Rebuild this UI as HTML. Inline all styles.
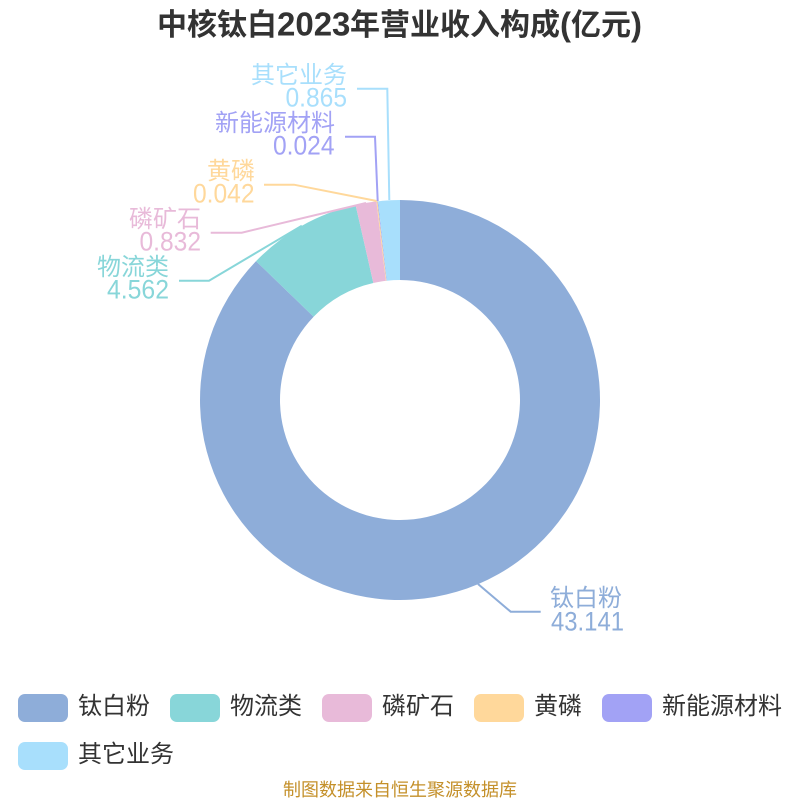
<!DOCTYPE html>
<html><head><meta charset="utf-8">
<style>
html,body{margin:0;padding:0;background:#fff}
svg{display:block}
text{font-family:"Liberation Sans","Noto Sans CJK SC",sans-serif}
</style></head>
<body>
<svg width="800" height="800" viewBox="0 0 800 800" xmlns="http://www.w3.org/2000/svg">
<rect width="800" height="800" fill="#fff"/>
<g font-weight="bold" fill="#333">
<text x="157" y="35" font-size="30">中核钛白</text>
<text x="277" y="35.5" font-size="33">2023</text>
<text x="350" y="35" font-size="30">年营业收入构成</text>
<text x="560" y="35.5" font-size="33">(</text>
<text x="571" y="35" font-size="30">亿元</text>
<text x="631" y="35.5" font-size="33">)</text>
</g>

<path d="M400 200A200 200 0 1 1 256.06 261.15L313.63 316.69A120 120 0 1 0 400 280Z" fill="#8EADD9"/>
<path d="M256.06 261.15A200 200 0 0 1 355.59 205.01L373.35 282.99A120 120 0 0 0 313.63 316.69Z" fill="#88D6D9"/>
<path d="M355.59 205.01A200 200 0 0 1 376.40 201.40L385.84 280.84A120 120 0 0 0 373.35 282.99Z" fill="#E8BAD9"/>
<path d="M376.40 201.40A200 200 0 0 1 377.46 201.27L386.48 280.76A120 120 0 0 0 385.84 280.84Z" fill="#FFD89B"/>
<path d="M377.46 201.27A200 200 0 0 1 378.07 201.21L386.84 280.72A120 120 0 0 0 386.48 280.76Z" fill="#A2A2F5"/>
<path d="M378.07 201.21A200 200 0 0 1 400 200L400 280A120 120 0 0 0 386.84 280.72Z" fill="#A8DFFC"/>

<g fill="none" stroke-width="2">
<polyline points="478,584 510.7,611.7 540.7,611.7" stroke="#8EADD9"/>
<polyline points="301.8,225.7 209,280.7 179,280.7" stroke="#88D6D9"/>
<polyline points="366,203 241.7,232.7 210.7,232.7" stroke="#E8BAD9"/>
<polyline points="376.7,201 294,184.7 264,184.7" stroke="#FFD89B"/>
<polyline points="377.7,201 375,136.7 345,136.7" stroke="#A2A2F5"/>
<polyline points="389.3,200 387.3,88.7 357,88.7" stroke="#A8DFFC"/>
</g>

<g font-size="24">
<g fill="#8EADD9"><text x="550" y="606">钛白粉</text><text x="551" y="630.5" font-size="26.5" textLength="73" lengthAdjust="spacingAndGlyphs">43.141</text></g>
<g fill="#88D6D9"><text x="169" y="275" text-anchor="end">物流类</text><text x="107" y="298.5" font-size="26.5" textLength="62" lengthAdjust="spacingAndGlyphs">4.562</text></g>
<g fill="#E8BAD9"><text x="201" y="227" text-anchor="end">磷矿石</text><text x="139.5" y="250.5" font-size="26.5" textLength="61.5" lengthAdjust="spacingAndGlyphs">0.832</text></g>
<g fill="#FFD89B"><text x="255" y="179" text-anchor="end">黄磷</text><text x="193" y="202.5" font-size="26.5" textLength="61.5" lengthAdjust="spacingAndGlyphs">0.042</text></g>
<g fill="#A2A2F5"><text x="335" y="131" text-anchor="end">新能源材料</text><text x="273" y="154.5" font-size="26.5" textLength="61.5" lengthAdjust="spacingAndGlyphs">0.024</text></g>
<g fill="#A8DFFC"><text x="347" y="83" text-anchor="end">其它业务</text><text x="285.5" y="106.5" font-size="26.5" textLength="61.5" lengthAdjust="spacingAndGlyphs">0.865</text></g>
</g>

<rect x="18" y="694" width="50" height="28" rx="7" fill="#8EADD9"/>
<rect x="170" y="694" width="50" height="28" rx="7" fill="#88D6D9"/>
<rect x="322" y="694" width="50" height="28" rx="7" fill="#E8BAD9"/>
<rect x="474" y="694" width="50" height="28" rx="7" fill="#FFD89B"/>
<rect x="602" y="694" width="50" height="28" rx="7" fill="#A2A2F5"/>
<rect x="18" y="742" width="50" height="28" rx="7" fill="#A8DFFC"/>
<g font-size="24" fill="#333">
<text x="78" y="714">钛白粉</text>
<text x="230" y="714">物流类</text>
<text x="382" y="714">磷矿石</text>
<text x="534" y="714">黄磷</text>
<text x="662" y="714">新能源材料</text>
<text x="78" y="762">其它业务</text>
</g>
<text x="400" y="796" text-anchor="middle" font-size="18" fill="#C4902A">制图数据来自恒生聚源数据库</text>
</svg>
</body></html>
